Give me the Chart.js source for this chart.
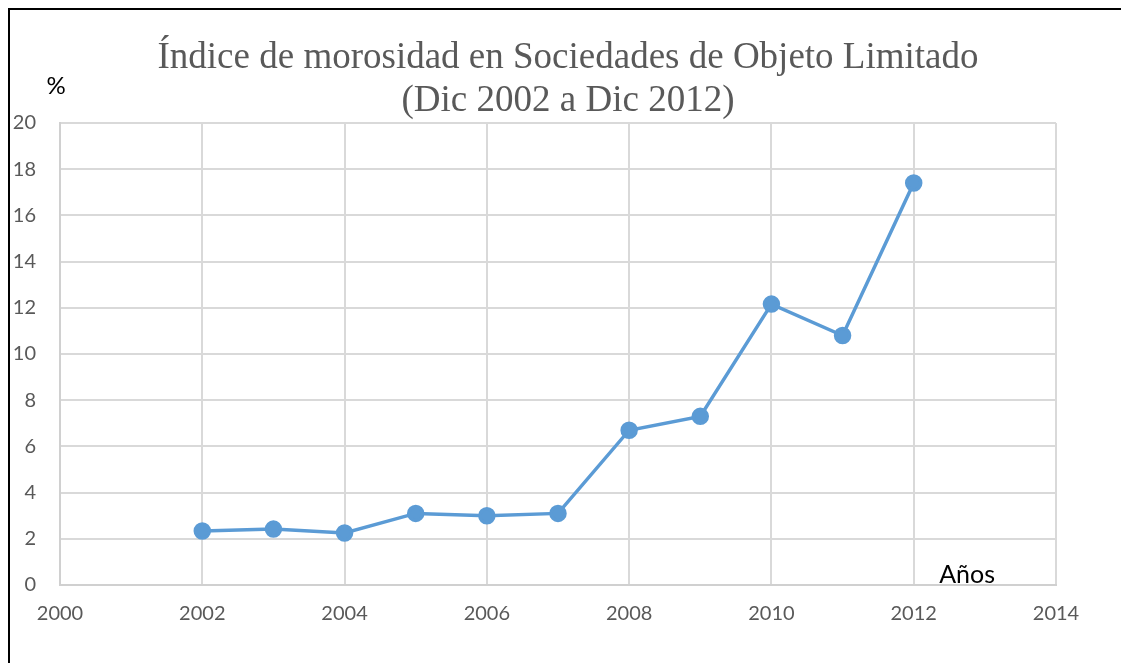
<!DOCTYPE html>
<html>
<head>
<meta charset="utf-8">
<script src="https://cdn.jsdelivr.net/npm/chart.js@4/dist/chart.umd.min.js"></script>
<style>
  html, body { margin: 0; padding: 0; background: #fff; }
  #wrap { width: 1121px; height: 663px; }
</style>
</head>
<body>
<div id="wrap"><canvas id="morosidad"></canvas></div>
<script>
const years = [2002, 2003, 2004, 2005, 2006, 2007, 2008, 2009, 2010, 2011, 2012];
const morosidad = [2.34, 2.42, 2.25, 3.1, 3.0, 3.1, 6.7, 7.3, 12.16, 10.8, 17.4];
const titleLines = ['Índice de morosidad en Sociedades de Objeto Limitado', '(Dic 2002 a Dic 2012)'];
const yLabel = '%';
const xLabel = 'Años';

const points = years.map((yr, i) => ({ x: yr, y: morosidad[i] }));

// title, frame and the two axis captions
const extras = {
    id: 'extras',
    afterDraw(chart) {
        const c = chart.ctx;
        const area = chart.chartArea;
        c.save();
        c.strokeStyle = '#000';
        c.lineWidth = 2;
        c.strokeRect(9, 9, 1200, 800);

        c.textAlign = 'center';
        c.textBaseline = 'middle';
        c.fillStyle = '#595959';
        c.font = '37px "Liberation Serif", "DejaVu Serif", serif';
        c.fillText(titleLines[0], 568, 58);
        c.fillText(titleLines[1], 568, 101);

        c.fillStyle = '#000';
        c.font = '24px Lato, "Liberation Sans", sans-serif';
        c.fillText(yLabel, 56, 86);
        c.font = '25px Lato, "Liberation Sans", sans-serif';
        c.fillText(xLabel, chart.scales.x.getPixelForValue(2012.75), area.bottom - 10);
        c.restore();
    }
};

const ctx = document.getElementById('morosidad').getContext('2d');
const myChart = new Chart(ctx, {
    type: 'line',
    data: {
        datasets: [{
            data: points,
            borderColor: '#5b9bd5',
            backgroundColor: '#5b9bd5',
            borderWidth: 3.5,
            pointRadius: 7,
            pointHoverRadius: 7,
            tension: 0
        }]
    },
    options: {
        responsive: true,
        maintainAspectRatio: false,
        animation: false,
        layout: { padding: { left: 0, right: 65, top: 123, bottom: 0 } },
        plugins: {
            legend: { display: false },
            tooltip: { enabled: false },
            title: { display: false }
        },
        scales: {
            x: {
                type: 'linear',
                min: 2000,
                max: 2014,
                ticks: {
                    stepSize: 2,
                    color: '#595959',
                    font: { family: 'Lato, "Liberation Sans", sans-serif', size: 20 },
                    padding: 17,
                    callback: v => String(v)
                },
                grid: { color: '#d9d9d9', lineWidth: 2, drawTicks: false },
                border: { color: '#d0d0d0', width: 2 },
                afterFit(scale) { scale.height = 78; }
            },
            y: {
                min: 0,
                max: 20,
                ticks: {
                    stepSize: 2,
                    color: '#595959',
                    font: { family: 'Lato, "Liberation Sans", sans-serif', size: 20 },
                    padding: 24
                },
                grid: { color: '#d9d9d9', lineWidth: 2, drawTicks: false },
                border: { color: '#d0d0d0', width: 2 },
                afterFit(scale) { scale.width = 60; }
            }
        }
    },
    plugins: [extras]
});
</script>
</body>
</html>
